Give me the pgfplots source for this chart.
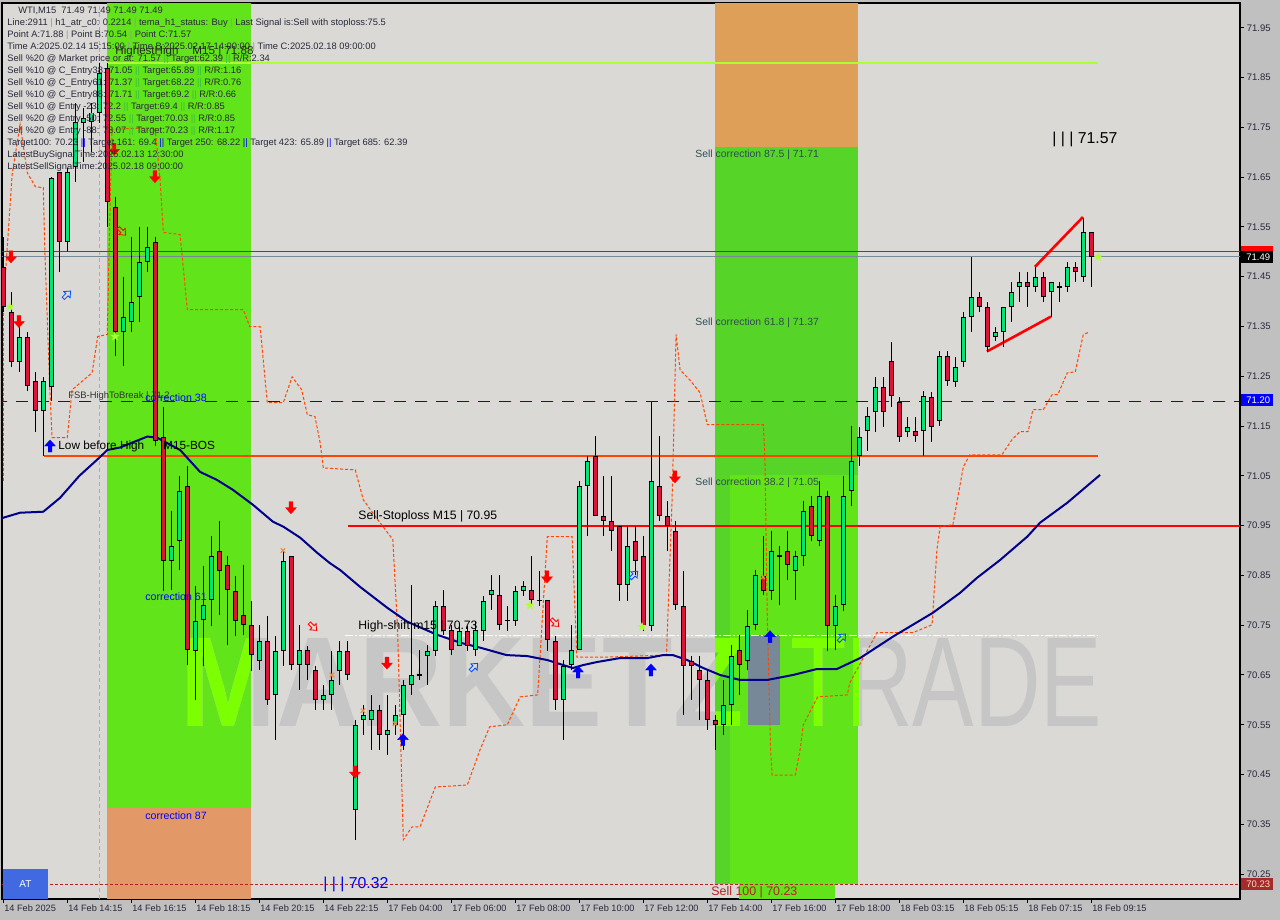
\documentclass[border=0pt]{standalone}
\usepackage{fontspec}
\setmainfont{Liberation Sans}
\usepackage{pgfplots}
\pgfplotsset{compat=1.18}
\usepackage{pgfplotstable}
\usetikzlibrary{plotmarks}

\definecolor{bgplot}{RGB}{218,217,213}
\definecolor{bgout}{RGB}{192,192,192}
\definecolor{zgreen}{RGB}{98,228,26}
\definecolor{zgreend}{RGB}{86,212,40}
\definecolor{zorange}{RGB}{227,152,103}
\definecolor{zorange2}{RGB}{222,160,88}
\definecolor{cgreen}{RGB}{0,230,118}
\definecolor{cred}{RGB}{220,20,60}
\definecolor{limec}{RGB}{173,255,47}
\definecolor{ored}{RGB}{255,69,0}
\definecolor{navyc}{RGB}{0,0,139}
\definecolor{salmonc}{RGB}{233,150,122}
\definecolor{fbrick}{RGB}{178,34,34}
\definecolor{slatec}{RGB}{119,136,153}
\definecolor{txt}{RGB}{40,40,60}
\definecolor{corr}{RGB}{47,79,79}
\definecolor{sepg}{RGB}{60,190,60}
\definecolor{sepgray}{RGB}{150,150,150}
\definecolor{wmgray}{RGB}{198,198,198}
\definecolor{wmlime}{RGB}{124,255,0}
\definecolor{xorange}{RGB}{230,145,70}
\definecolor{tagbrown}{RGB}{165,42,42}
\definecolor{tagtext}{RGB}{255,220,200}
\definecolor{atblue}{RGB}{65,105,225}

\pgfdeclareplotmark{dnarr}{%
 \pgfpathmoveto{\pgfqpoint{-0.9pt}{3pt}}\pgfpathlineto{\pgfqpoint{0.9pt}{3pt}}%
 \pgfpathlineto{\pgfqpoint{0.9pt}{0pt}}\pgfpathlineto{\pgfqpoint{2.7pt}{0pt}}%
 \pgfpathlineto{\pgfqpoint{0pt}{-3pt}}\pgfpathlineto{\pgfqpoint{-2.7pt}{0pt}}%
 \pgfpathlineto{\pgfqpoint{-0.9pt}{0pt}}\pgfpathclose\pgfusepathqfillstroke}
\pgfdeclareplotmark{uparr}{%
 \pgfpathmoveto{\pgfqpoint{-0.9pt}{-3pt}}\pgfpathlineto{\pgfqpoint{0.9pt}{-3pt}}%
 \pgfpathlineto{\pgfqpoint{0.9pt}{0pt}}\pgfpathlineto{\pgfqpoint{2.7pt}{0pt}}%
 \pgfpathlineto{\pgfqpoint{0pt}{3pt}}\pgfpathlineto{\pgfqpoint{-2.7pt}{0pt}}%
 \pgfpathlineto{\pgfqpoint{-0.9pt}{0pt}}\pgfpathclose\pgfusepathqfillstroke}
\pgfdeclareplotmark{dnarro}{%
 \pgfpathmoveto{\pgfqpoint{-0.8pt}{2.6pt}}\pgfpathlineto{\pgfqpoint{0.8pt}{2.6pt}}%
 \pgfpathlineto{\pgfqpoint{0.8pt}{0pt}}\pgfpathlineto{\pgfqpoint{2.2pt}{0pt}}%
 \pgfpathlineto{\pgfqpoint{0pt}{-2.6pt}}\pgfpathlineto{\pgfqpoint{-2.2pt}{0pt}}%
 \pgfpathlineto{\pgfqpoint{-0.8pt}{0pt}}\pgfpathclose\pgfusepathqstroke}
\pgfdeclareplotmark{uparro}{%
 \pgfpathmoveto{\pgfqpoint{-0.8pt}{-2.6pt}}\pgfpathlineto{\pgfqpoint{0.8pt}{-2.6pt}}%
 \pgfpathlineto{\pgfqpoint{0.8pt}{0pt}}\pgfpathlineto{\pgfqpoint{2.2pt}{0pt}}%
 \pgfpathlineto{\pgfqpoint{0pt}{2.6pt}}\pgfpathlineto{\pgfqpoint{-2.2pt}{0pt}}%
 \pgfpathlineto{\pgfqpoint{-0.8pt}{0pt}}\pgfpathclose\pgfusepathqstroke}
\pgfdeclareplotmark{fstar}{%
 \pgfpathmoveto{\pgfqpoint{0pt}{2.5pt}}\pgfpathlineto{\pgfqpoint{-0.59pt}{0.81pt}}%
 \pgfpathlineto{\pgfqpoint{-2.38pt}{0.77pt}}\pgfpathlineto{\pgfqpoint{-0.95pt}{-0.31pt}}%
 \pgfpathlineto{\pgfqpoint{-1.47pt}{-2.02pt}}\pgfpathlineto{\pgfqpoint{0pt}{-1pt}}%
 \pgfpathlineto{\pgfqpoint{1.47pt}{-2.02pt}}\pgfpathlineto{\pgfqpoint{0.95pt}{-0.31pt}}%
 \pgfpathlineto{\pgfqpoint{2.38pt}{0.77pt}}\pgfpathlineto{\pgfqpoint{0.59pt}{0.81pt}}%
 \pgfpathclose\pgfusepathqfill}

\pgfplotstableread{
i o h l c
0 71.47 71.53 71.38 71.39
1 71.38 71.42 71.27 71.28
2 71.28 71.35 71.26 71.33
3 71.33 71.34 71.22 71.23
4 71.24 71.26 71.14 71.18
5 71.18 71.25 71.09 71.24
6 71.23 71.65 71.20 71.65
7 71.66 71.66 71.46 71.52
8 71.52 71.67 71.50 71.66
9 71.67 71.80 71.64 71.76
10 71.76 71.79 71.68 71.77
11 71.76 71.80 71.70 71.78
12 71.78 71.88 71.76 71.86
13 71.87 71.88 71.55 71.60
14 71.59 71.61 71.29 71.34
15 71.34 71.45 71.27 71.37
16 71.36 71.53 71.34 71.40
17 71.41 71.55 71.36 71.48
18 71.48 71.55 71.46 71.51
19 71.52 71.53 71.11 71.12
20 71.13 71.19 70.82 70.88
21 70.88 70.98 70.82 70.91
22 70.92 71.05 70.86 71.02
23 71.03 71.07 70.67 70.70
24 70.70 70.83 70.60 70.76
25 70.76 70.87 70.67 70.79
26 70.80 70.93 70.75 70.89
27 70.90 70.96 70.77 70.86
28 70.87 70.89 70.71 70.82
29 70.82 70.85 70.73 70.76
30 70.77 70.87 70.73 70.75
31 70.75 70.80 70.66 70.69
32 70.68 70.75 70.66 70.72
33 70.72 70.77 70.59 70.60
34 70.61 70.73 70.52 70.70
35 70.70 70.90 70.67 70.88
36 70.89 70.89 70.66 70.67
37 70.67 70.75 70.62 70.70
38 70.70 70.71 70.64 70.67
39 70.66 70.67 70.58 70.60
40 70.60 70.63 70.58 70.61
41 70.61 70.70 70.58 70.64
42 70.66 70.72 70.63 70.70
43 70.70 70.72 70.64 70.65
44 70.38 70.56 70.32 70.55
45 70.56 70.59 70.53 70.57
46 70.56 70.61 70.50 70.58
47 70.58 70.59 70.50 70.53
48 70.53 70.61 70.49 70.54
49 70.55 70.59 70.53 70.57
50 70.57 70.64 70.50 70.63
51 70.63 70.83 70.61 70.65
52 70.65 70.70 70.64 70.65
53 70.69 70.71 70.63 70.70
54 70.70 70.80 70.69 70.79
55 70.79 70.82 70.73 70.74
56 70.74 70.75 70.69 70.70
57 70.71 70.75 70.71 70.74
58 70.74 70.75 70.70 70.71
59 70.70 70.76 70.69 70.74
60 70.74 70.81 70.72 70.80
61 70.81 70.85 70.78 70.82
62 70.81 70.85 70.74 70.75
63 70.76 70.79 70.74 70.76
64 70.76 70.83 70.75 70.82
65 70.82 70.84 70.81 70.83
66 70.82 70.89 70.79 70.80
67 70.80 70.86 70.79 70.80
68 70.80 70.80 70.70 70.72
69 70.72 70.73 70.58 70.60
70 70.60 70.68 70.52 70.67
71 70.67 70.75 70.66 70.70
72 70.70 71.04 70.70 71.03
73 71.03 71.09 70.93 71.08
74 71.09 71.13 70.97 70.97
75 70.97 71.05 70.93 70.96
76 70.96 71.05 70.90 70.94
77 70.95 70.95 70.80 70.83
78 70.83 70.95 70.80 70.91
79 70.92 70.95 70.85 70.88
80 70.89 70.93 70.74 70.75
81 70.75 71.20 70.74 71.04
82 71.03 71.13 70.96 70.97
83 70.97 71.00 70.90 70.95
84 70.94 70.96 70.78 70.79
85 70.79 70.86 70.57 70.67
86 70.68 70.69 70.60 70.67
87 70.66 70.69 70.56 70.64
88 70.64 70.66 70.54 70.56
89 70.56 70.57 70.50 70.55
90 70.55 70.64 70.53 70.59
91 70.59 70.71 70.55 70.69
92 70.70 70.73 70.61 70.67
93 70.68 70.78 70.66 70.75
94 70.75 70.86 70.74 70.85
95 70.85 70.93 70.81 70.82
96 70.82 70.94 70.80 70.90
97 70.89 70.91 70.79 70.89
98 70.90 70.94 70.84 70.87
99 70.86 70.90 70.80 70.89
100 70.89 71.00 70.87 70.98
101 70.99 71.01 70.92 70.93
102 70.92 71.04 70.91 71.01
103 71.01 71.02 70.70 70.75
104 70.75 70.81 70.70 70.79
105 70.79 71.05 70.78 71.01
106 71.02 71.15 70.99 71.08
107 71.09 71.15 71.07 71.13
108 71.14 71.19 71.10 71.17
109 71.18 71.25 71.14 71.23
110 71.23 71.25 71.15 71.18
111 71.28 71.32 71.19 71.21
112 71.20 71.21 71.12 71.13
113 71.14 71.17 71.13 71.15
114 71.14 71.17 71.12 71.13
115 71.14 71.22 71.09 71.21
116 71.21 71.22 71.12 71.15
117 71.16 71.30 71.15 71.29
118 71.29 71.30 71.23 71.24
119 71.24 71.29 71.23 71.27
120 71.28 71.38 71.27 71.37
121 71.37 71.49 71.34 71.41
122 71.41 71.42 71.38 71.39
123 71.39 71.40 71.30 71.31
124 71.33 71.35 71.32 71.34
125 71.34 71.39 71.31 71.39
126 71.39 71.44 71.36 71.42
127 71.43 71.46 71.40 71.44
128 71.44 71.46 71.39 71.43
129 71.43 71.47 71.42 71.45
130 71.45 71.46 71.40 71.41
131 71.42 71.44 71.37 71.44
132 71.43 71.44 71.40 71.43
133 71.43 71.48 71.42 71.47
134 71.47 71.48 71.44 71.46
135 71.45 71.57 71.44 71.54
136 71.54 71.54 71.43 71.49
}\candles

\newcommand\hfont{\fontsize{4.67}{5}\selectfont}
\newcommand\gs{\textcolor{sepg}{||}}
\newcommand\bs{\textcolor{blue}{||}}
\newcommand\ps{\textcolor{sepgray}{|}}
\newcommand\wmA{\fontsize{64}{64}\selectfont\bfseries\scalebox{0.90}[1]{MARKETZ}}
\newcommand\wmB{\fontsize{64}{64}\selectfont\scalebox{0.72}[1]{TRADE}}

\begin{document}
\begin{tikzpicture}
\fill[bgout] (0,0) rectangle (640pt,460pt);
\begin{axis}[
  at={(1pt,10.5pt)}, anchor=south west, scale only axis,
  width=619pt, height=448pt,
  xmin=-0.1625, xmax=154.59, ymin=70.2, ymax=72.0,
  axis background/.style={fill=bgplot},
  axis line style={black, line width=0.6pt},
  tick align=outside, major tick length=2pt,
  tick style={black, line width=0.5pt},
  xtick pos=bottom, ytick pos=right, yticklabel pos=right,
  xtick={0,8,...,136},
  xticklabels={14 Feb 2025,14 Feb 14:15,14 Feb 16:15,14 Feb 18:15,14 Feb 20:15,14 Feb 22:15,17 Feb 04:00,17 Feb 06:00,17 Feb 08:00,17 Feb 10:00,17 Feb 12:00,17 Feb 14:00,17 Feb 16:00,17 Feb 18:00,18 Feb 03:15,18 Feb 05:15,18 Feb 07:15,18 Feb 09:15},
  xticklabel style={anchor=north west, font=\fontsize{4.6}{5}\selectfont, text=txt, inner sep=0pt, xshift=0.3pt, yshift=-0.5pt},
  ytick={70.25,70.35,70.45,70.55,70.65,70.75,70.85,70.95,71.05,71.15,71.25,71.35,71.45,71.55,71.65,71.75,71.85,71.95},
  yticklabels={70.25,70.35,70.45,70.55,70.65,70.75,70.85,70.95,71.05,71.15,71.25,71.35,71.45,71.55,71.65,71.75,71.85,71.95},
  yticklabel style={anchor=west, font=\fontsize{4.75}{5}\selectfont, text=txt, inner sep=0pt, xshift=1.2pt},
]
% zones
\fill[zgreen] (axis cs:12.96,70.383) rectangle (axis cs:30.96,72.0);
\fill[zorange] (axis cs:12.96,70.2) rectangle (axis cs:30.96,70.383);
\fill[zgreen] (axis cs:88.96,70.23) rectangle (axis cs:106.84,71.71);
\fill[zgreend] (axis cs:88.96,70.23) rectangle (axis cs:90.9,71.71);
\fill[zgreend] (axis cs:90.9,71.052) rectangle (axis cs:106.84,71.71);
\fill[zorange2] (axis cs:88.96,71.71) rectangle (axis cs:106.84,72.0);
\fill[zgreen] (axis cs:91.96,70.2) rectangle (axis cs:103.96,70.23);
% watermark
\node[anchor=base west, inner sep=0pt, text=wmgray] at (axis cs:22.1,70.546) {\wmA};
\node[anchor=base west, inner sep=0pt, text=wmgray] at (axis cs:98.3,70.546) {\wmB};
\begin{scope}
\clip (axis cs:12.96,70.383) rectangle (axis cs:30.96,72.0) (axis cs:88.96,70.23) rectangle (axis cs:106.84,71.71);
\node[anchor=base west, inner sep=0pt, text=wmlime] at (axis cs:22.1,70.546) {\wmA};
\node[anchor=base west, inner sep=0pt, text=wmlime] at (axis cs:98.3,70.546) {\wmB};
\end{scope}
\fill[slatec] (axis cs:93.1,70.55) rectangle (axis cs:97.1,70.731);
% vertical time line
\addplot[salmonc, line width=0.5pt, dash pattern=on 2pt off 1.5pt] coordinates {(12.06,70.2) (12.06,72.0)};
% horizontal levels
\addplot[limec, line width=1pt] coordinates {(12.96,71.88) (136.8,71.88)};
\addplot[red, line width=0.5pt] coordinates {(-1,71.50) (160,71.50)};
\addplot[slatec, line width=0.5pt] coordinates {(-1,71.49) (160,71.49)};
\addplot[blue, line width=0.5pt, dash pattern=on 6pt off 4.5pt] coordinates {(-1,71.20) (160,71.20)};
\addplot[ored, line width=1pt] coordinates {(5.09,71.09) (136.8,71.09)};
\addplot[red, line width=1pt] coordinates {(43.1,70.95) (160,70.95)};
\addplot[white, line width=0.5pt, dash pattern=on 4pt off 1pt on 1pt off 1pt] coordinates {(42.7,70.73) (136.8,70.73)};
\addplot[fbrick, line width=0.5pt, dash pattern=on 1.5pt off 1pt] coordinates {(-1,70.23) (160,70.23)};
% stepped dashed line
\addplot[ored, line width=0.5pt, dash pattern=on 1.5pt off 1pt] coordinates {
(0,71.04) (0,71.39) (1.1,71.655) (2.1,71.756) (3.0,71.659) (4.0,71.631) (5.0,71.629) (5.2,71.50) (5.8,71.229) (6.1,71.127) (8.0,71.127) (8.6,71.223) (11.1,71.257) (11.8,71.33) (13.0,71.334) (13.3,71.555) (13.6,71.746) (18.96,71.75) (19.6,71.645) (20.0,71.539) (22.1,71.535) (23.0,71.384) (30.0,71.384) (30.8,71.35) (32.1,71.35) (33.0,71.197) (35.0,71.197) (36.1,71.249) (37.3,71.223) (38.0,71.173) (38.96,71.169) (39.6,71.117) (40.0,71.066) (44.0,71.062) (45.0,71.002) (46.8,70.962) (48.7,70.922) (49.3,70.735) (49.6,70.56) (50.0,70.319) (51.1,70.345) (52.1,70.345) (54.0,70.425) (58.0,70.429) (59.6,70.50) (60.8,70.546) (63.0,70.55) (64.6,70.606) (66.8,70.61) (67.3,70.741) (68.0,70.928) (71.1,70.928) (71.7,70.686) (75.5,70.686) (82.9,70.69) (83.6,71.002) (84.1,71.334) (84.6,71.263) (85.8,71.243) (87.1,71.217) (88.0,71.153) (95.0,71.153) (95.2,71.088) (95.5,70.767) (95.9,70.505) (96.1,70.449) (99.0,70.449) (99.6,70.50) (100.0,70.55) (101.8,70.606) (105.5,70.61) (105.8,70.634) (109.2,70.735) (113.7,70.735) (116.1,70.751) (116.7,70.901) (117.1,70.948) (118.7,70.952) (120.0,71.068) (120.8,71.092) (124.8,71.092) (126.1,71.123) (127.1,71.139) (128.1,71.139) (128.7,71.183) (130.0,71.183) (131.1,71.213) (131.8,71.213) (133.0,71.257) (134.0,71.259) (135.0,71.334) (135.6,71.338)};
% moving average
\addplot[navyc, line width=1pt] coordinates {
(-0.2,70.965) (0,70.966) (2.1,70.976) (5,70.978) (7.1,71.006) (9.5,71.05) (12.1,71.088) (13,71.102) (14.6,71.107) (18,71.129) (19.2,71.127) (22.1,71.102) (24.6,71.058) (26.7,71.042) (28.7,71.022) (31.2,70.992) (33.7,70.958) (35,70.948) (37.1,70.926) (39.2,70.896) (40.8,70.875) (42.1,70.861) (44.6,70.827) (48,70.785) (50.5,70.757) (54.2,70.731) (57.1,70.715) (59.6,70.705) (62.9,70.690) (65.5,70.688) (68,70.680) (71.2,70.664) (72.5,70.670) (74.2,70.676) (77.1,70.684) (80.5,70.684) (82.5,70.690) (83.7,70.690) (85.5,70.680) (87.5,70.664) (89.6,70.650) (92.1,70.640) (95.5,70.640) (98.7,70.650) (101.7,70.662) (104.2,70.662) (107.1,70.684) (111.2,70.727) (116.2,70.775) (119.6,70.815) (121.7,70.845) (124.6,70.881) (128,70.928) (129.6,70.956) (133,70.996) (137.1,71.052)};
% trend lines
\addplot[red, line width=1.3pt] coordinates {(128.96,71.47) (134.96,71.57)};
\addplot[red, line width=1.3pt] coordinates {(122.96,71.30) (130.96,71.37)};
% candles: wicks
\addplot[draw=none, mark=none, error bars/.cd, y dir=both, y explicit, error mark=none,
  error bar style={draw=black, line width=0.5pt, solid}]
  table[x=i, y expr=(\thisrow{h}+\thisrow{l})/2, y error expr=(\thisrow{h}-\thisrow{l})/2] {\candles};
% bodies outline
\addplot[draw=none, mark=none, error bars/.cd, y dir=both, y explicit, error mark=none,
  error bar style={draw=black, line width=2.6pt, solid}]
  table[x=i, y expr=(\thisrow{o}+\thisrow{c})/2, y error expr={max(abs(\thisrow{c}-\thisrow{o})/2,0.0011)}] {\candles};
% green fill
\addplot[draw=none, mark=none, restrict expr to domain={\thisrow{c}-\thisrow{o}}{0:10},
  error bars/.cd, y dir=both, y explicit, error mark=none,
  error bar style={draw=cgreen, line width=1.6pt, solid}]
  table[x=i, y expr=(\thisrow{o}+\thisrow{c})/2, y error expr={max(abs(\thisrow{c}-\thisrow{o})/2-0.002,0)}] {\candles};
% red fill
\addplot[draw=none, mark=none, restrict expr to domain={\thisrow{c}-\thisrow{o}}{-10:-0.000001},
  error bars/.cd, y dir=both, y explicit, error mark=none,
  error bar style={draw=cred, line width=1.6pt, solid}]
  table[x=i, y expr=(\thisrow{o}+\thisrow{c})/2, y error expr={max(abs(\thisrow{c}-\thisrow{o})/2-0.002,0)}] {\candles};
% signal marks
\addplot[only marks, mark=dnarr, red, mark options={fill=red, draw=red, line width=0.2pt}] coordinates {
(0.96,71.49) (1.96,71.36) (13.85,71.706) (18.96,71.651) (35.96,70.986) (43.96,70.455) (47.96,70.674) (67.96,70.847) (83.96,71.048)};
\addplot[only marks, mark=uparr, blue, mark options={fill=blue, draw=blue, line width=0.2pt}] coordinates {
(5.84,71.11) (49.96,70.52) (71.84,70.656) (80.96,70.66) (95.84,70.727)};
\addplot[only marks, mark=uparro, blue!70!cyan, mark options={rotate=-45, line width=0.4pt}] coordinates {
(7.96,71.414) (58.84,70.666) (78.84,70.851) (104.84,70.725)};
\addplot[only marks, mark=dnarro, red, mark options={rotate=45, line width=0.4pt}] coordinates {
(14.84,71.541) (38.71,70.747) (68.96,70.755)};
\addplot[only marks, mark=fstar, limec, mark options={fill=limec}] coordinates {
(0.84,71.39) (13.96,71.33) (65.84,70.79) (79.84,70.747) (136.84,71.49)};
\addplot[only marks, mark=x, xorange, mark size=1.6pt, mark options={line width=0.6pt}] coordinates {
(34.96,70.90) (41.09,70.65) (44.96,70.578) (48.96,70.552) (94.96,70.847)};
\end{axis}

\begin{scope}[x=0.5pt, y=-0.5pt, shift={(0pt,460pt)}]
% price tags
\fill[red] (1241,246) rectangle (1273,253);
\fill[black] (1241,251.5) rectangle (1273,263);
\node[anchor=west, inner sep=0pt, text=white, font=\fontsize{4.75}{5}\selectfont] at (1246,257.3) {71.49};
\fill[blue] (1241,394.5) rectangle (1273,406);
\node[anchor=west, inner sep=0pt, text=white, font=\fontsize{4.75}{5}\selectfont] at (1246,400.3) {71.20};
\fill[tagbrown] (1241,878) rectangle (1273,890);
\node[anchor=west, inner sep=0pt, text=tagtext, font=\fontsize{4.75}{5}\selectfont] at (1246,884) {70.23};
% AT box
\fill[atblue] (3,869) rectangle (48,899);
\node[text=white, font=\fontsize{5}{6}\selectfont] at (25.5,884) {AT};
% header
\begin{scope}[every node/.style={anchor=west, inner sep=0pt, text=txt, font=\hfont}]
\node at (18,10.7) {WTI,M15\ \ 71.49 71.49 71.49 71.49};
\node at (7,23) {Line:2911 \ps{} h1\_atr\_c0: 0.2214 \ps{} tema\_h1\_status: Buy \ps{} Last Signal is:Sell with stoploss:75.5};
\node at (7,35) {Point A:71.88 \ps{} Point B:70.54 \ps{} Point C:71.57};
\node at (7,47) {Time A:2025.02.14 15:15:00 \ps{} Time B:2025.02.17 14:00:00 \ps{} Time C:2025.02.18 09:00:00};
\node at (7,59) {Sell \%20 @ Market price or at: 71.57 \gs{} Target:62.39 \gs{} R/R:2.34};
\node at (7,71) {Sell \%10 @ C\_Entry38: 71.05 \gs{} Target:65.89 \gs{} R/R:1.16};
\node at (7,83) {Sell \%10 @ C\_Entry61: 71.37 \gs{} Target:68.22 \gs{} R/R:0.76};
\node at (7,95) {Sell \%10 @ C\_Entry88: 71.71 \gs{} Target:69.2 \gs{} R/R:0.66};
\node at (7,107) {Sell \%10 @ Entry -23: 72.2 \gs{} Target:69.4 \gs{} R/R:0.85};
\node at (7,119) {Sell \%20 @ Entry -50: 72.55 \gs{} Target:70.03 \gs{} R/R:0.85};
\node at (7,131) {Sell \%20 @ Entry -88: 73.07 \gs{} Target:70.23 \gs{} R/R:1.17};
\node at (7,143) {Target100: 70.23 \bs{} Target 161: 69.4 \bs{} Target 250: 68.22 \bs{} Target 423: 65.89 \bs{} Target 685: 62.39};
\node at (7,155) {LatestBuySignalTime:2025.02.13 12:30:00};
\node at (7,167) {LatestSellSignalTime:2025.02.18 09:00:00};
\end{scope}
% chart labels
\begin{scope}[every node/.style={anchor=west, inner sep=0pt}]
\node[text=black!85, font=\fontsize{5.8}{6}\selectfont] at (115,52) {HighestHigh\hspace{1.2em}M15 | 71.88};
\node[text=black, font=\fontsize{5.9}{6}\selectfont] at (58,446) {Low before High\hspace{1.6em}M15-BOS};
\node[text=black!80, font=\fontsize{4.7}{5}\selectfont] at (68,396) {FSB-HighToBreak | 71.2};
\node[text=blue, font=\fontsize{5.3}{6}\selectfont] at (145,398) {correction 38};
\node[text=blue, font=\fontsize{5.3}{6}\selectfont] at (145,597) {correction 61};
\node[text=blue, font=\fontsize{5.3}{6}\selectfont] at (145,816) {correction 87};
\node[text=corr, font=\fontsize{5.2}{6}\selectfont] at (695,155) {Sell correction 87.5 | 71.71};
\node[text=corr, font=\fontsize{5.2}{6}\selectfont] at (695,323) {Sell correction 61.8 | 71.37};
\node[text=corr, font=\fontsize{5.2}{6}\selectfont] at (695,483) {Sell correction 38.2 | 71.05};
\node[text=black, font=\fontsize{6.1}{7}\selectfont] at (358,516) {Sell-Stoploss M15 | 70.95};
\node[text=black, font=\fontsize{6.1}{7}\selectfont] at (358,626) {High-shift m15 | 70.73};
\node[text=blue, font=\fontsize{7.9}{8}\selectfont] at (323,884) {| | | 70.32};
\node[text=black, font=\fontsize{7.9}{8}\selectfont] at (1052,139) {| | | 71.57};
\node[text=fbrick, font=\fontsize{6.2}{7}\selectfont] at (711,892) {Sell 100 | 70.23};
\end{scope}
\end{scope}
\pgfresetboundingbox
\path[use as bounding box] (0,0) rectangle (640pt,460pt);
\end{tikzpicture}
\end{document}
